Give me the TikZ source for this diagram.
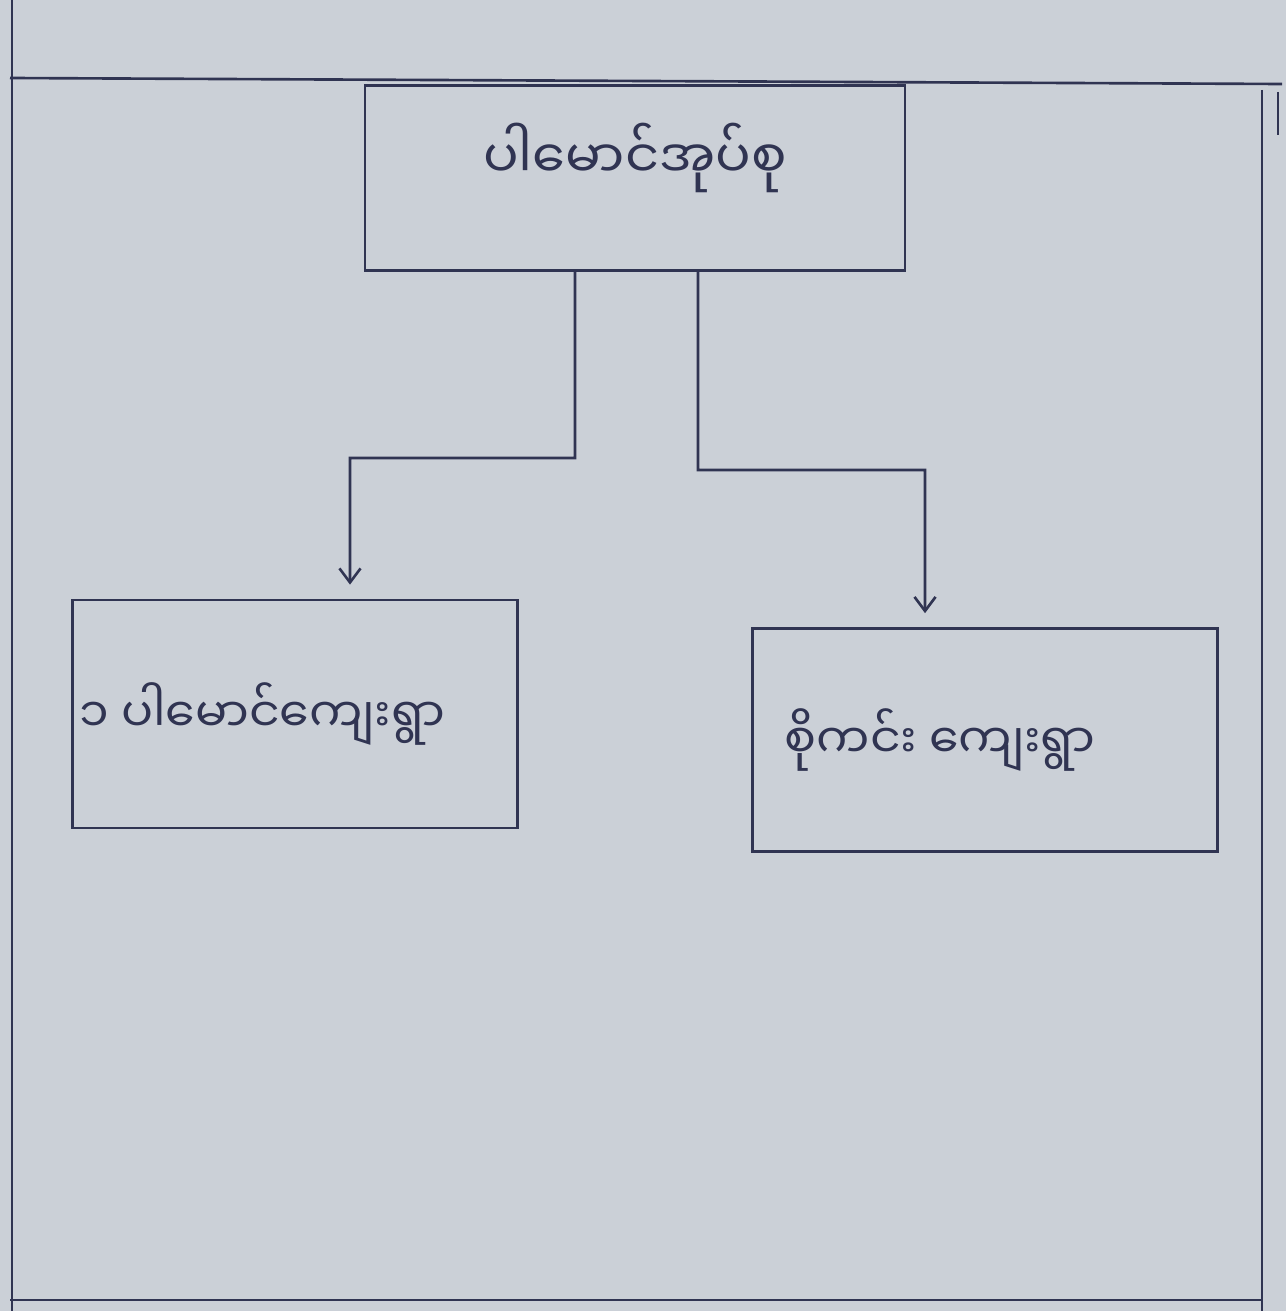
\documentclass[tikz,border=0pt]{standalone}
\usepackage{fontspec}
\newfontfamily\mmfont[Script=Myanmar]{Noto Sans Myanmar UI}
\usetikzlibrary{positioning, arrows.meta}

\definecolor{paper}{RGB}{203,208,215}
\definecolor{pen}{RGB}{48,52,82}

\tikzset{
  unitbox/.style={draw=pen, line width=1.5pt, inner sep=0pt, font=\mmfont\fontsize{30}{36}\selectfont, text=pen},
  villbox/.style={unitbox, font=\mmfont\fontsize{27}{32}\selectfont},
  link/.style={draw=pen, line width=1.5pt, -{Straight Barb[length=8pt,width=12pt]}, shorten >=8pt},
}

\begin{document}
\begin{tikzpicture}[x=0.02cm, y=-0.02cm]
  \useasboundingbox (0,0) rectangle (1286,1311);
  \fill[paper] (0,0) rectangle (1286,1311);

  % page frame
  \draw[pen, line width=1.5pt] (12,0) -- (12,1311);
  \draw[pen, line width=1.5pt] (10,78) -- (1282,84);
  \draw[pen, line width=1.5pt] (1262,90) -- (1262,1311);
  \draw[pen, line width=1.5pt] (1278,92) -- (1278,135);
  \draw[pen, line width=1.5pt] (10,1300) -- (1262,1300);

  \node [unitbox, minimum width=10.8cm, minimum height=3.7cm](tract) at (635,178) {\raisebox{1.1cm}{ပါမောင်အုပ်စု}};
  \node [villbox, minimum width=8.9cm, minimum height=4.56cm](vila) at (295,714) {၁ ပါမောင်ကျေးရွာ\kern1.3cm};
  \node [villbox, minimum width=9.3cm, minimum height=4.46cm](vilb) at (985,740) {စိုကင်း ကျေးရွာ\kern1.8cm};

  % links down to the villages
  \draw[link] ([xshift=-1.2cm]tract.south) |- (350,458) -- ([xshift=1.1cm]vila.north);
  \draw[link] ([xshift=1.26cm]tract.south) |- (925,470) -- ([xshift=-1.2cm]vilb.north);
\end{tikzpicture}
\end{document}
